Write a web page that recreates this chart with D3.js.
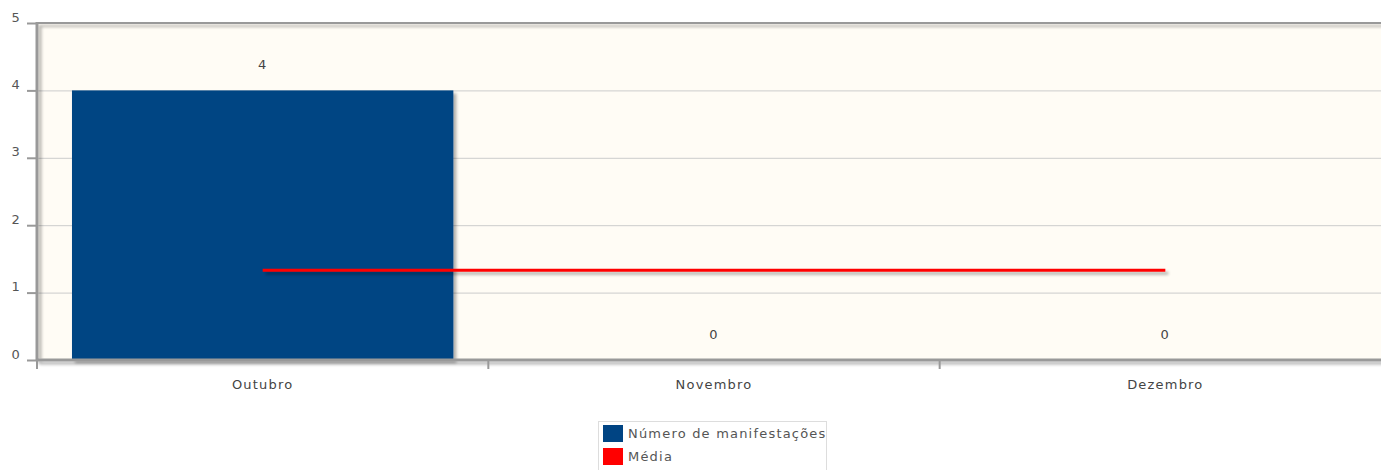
<!DOCTYPE html>
<html>
<head>
<meta charset="utf-8">
<script src="https://cdn.jsdelivr.net/npm/d3@7"></script>
<style>
  body { margin: 0; background: #fff; }
  text { font-family: "DejaVu Sans", Verdana, sans-serif; letter-spacing: 1.2px; }
</style>
</head>
<body>
<svg width="1381" height="470"></svg>
<script>
var months = ["Outubro", "Novembro", "Dezembro"];
var counts = [4, 0, 0];
var average = [1.33, 1.33, 1.33];
var yTicks = [0, 1, 2, 3, 4, 5];
var legendLabels = ["Número de manifestações", "Média"];
var legendColors = ["#004483", "#ff0000"];

var svg = d3.select("svg");
var plotL = 37, plotT = 23, plotB = 360, plotR = 1391;

var x = d3.scaleBand().domain(months).range([plotL, plotR]).paddingInner(0.155).paddingOuter(0.0775);
var xTick = d3.scaleBand().domain(months).range([plotL, plotR]);
var y = d3.scaleLinear().domain([0, 5]).range([plotB, plotT]);

function makeShadow(id, dx, dy) {
  var f = svg.append("defs").append("filter").attr("id", id)
    .attr("filterUnits", "userSpaceOnUse")
    .attr("x", 0).attr("y", 0).attr("width", 1400).attr("height", 470);
  f.append("feOffset").attr("in", "SourceAlpha").attr("dx", dx).attr("dy", dy).attr("result", "off");
  f.append("feGaussianBlur").attr("in", "off").attr("stdDeviation", 1.5).attr("result", "blur");
  f.append("feComponentTransfer").append("feFuncA").attr("type", "linear").attr("slope", 0.3);
  var merge = f.append("feMerge");
  merge.append("feMergeNode");
  merge.append("feMergeNode").attr("in", "SourceGraphic");
}
makeShadow("shadow", 3, 3);

// plot background
svg.append("rect").attr("x", plotL).attr("y", plotT).attr("width", plotR - plotL).attr("height", plotB - plotT)
  .attr("fill", "#fffcf5");

// grid
svg.append("g").selectAll("line").data(yTicks.slice(1)).enter().append("line")
  .attr("x1", plotL).attr("x2", plotR)
  .attr("y1", function (d) { return y(d) + 0.5; })
  .attr("y2", function (d) { return y(d) + 0.5; })
  .attr("stroke", "#cccccc").attr("stroke-width", 1);

// bars
svg.append("g").selectAll("rect").data(counts).enter().append("rect")
  .attr("x", function (d, i) { return x(months[i]); })
  .attr("y", function (d) { return y(d); })
  .attr("width", x.bandwidth())
  .attr("height", function (d) { return y(0) - y(d); })
  .attr("fill", "#004483")
  .attr("filter", "url(#shadow)");

// value labels
svg.append("g").selectAll("text").data(counts).enter().append("text")
  .attr("x", function (d, i) { return xTick(months[i]) + xTick.bandwidth() / 2; })
  .attr("y", function (d) { return y(d) - 21; })
  .attr("text-anchor", "middle")
  .attr("font-size", 13).attr("fill", "#444")
  .text(function (d) { return d; });

// average line
var line = d3.line()
  .x(function (d, i) { return xTick(months[i]) + xTick.bandwidth() / 2; })
  .y(function (d) { return y(d); });
svg.append("path").datum(average).attr("d", line)
  .attr("fill", "none").attr("stroke", "#ff0000").attr("stroke-width", 3)
  .attr("filter", "url(#shadow)");

// axes
var axisG = svg.append("g").attr("filter", "url(#shadow)");
axisG.append("line").attr("x1", plotL).attr("x2", plotL).attr("y1", plotT - 1).attr("y2", plotB + 1)
  .attr("stroke", "#999").attr("stroke-width", 3);
axisG.append("line").attr("x1", plotL).attr("x2", plotR).attr("y1", plotT).attr("y2", plotT)
  .attr("stroke", "#999").attr("stroke-width", 2);
axisG.append("line").attr("x1", plotL).attr("x2", plotR).attr("y1", plotB).attr("y2", plotB)
  .attr("stroke", "#999").attr("stroke-width", 3);

var yAxis = d3.axisLeft(y).tickValues(yTicks).tickSize(9).tickPadding(6).tickFormat(d3.format("d"));
var yg = svg.append("g").attr("transform", "translate(" + (plotL - 1) + ",0)").call(yAxis);
yg.select(".domain").remove();
yg.selectAll(".tick line").attr("stroke", "#999").attr("stroke-width", 2);
yg.selectAll(".tick text").attr("font-size", 13).attr("fill", "#555").attr("dy", "-0.15em")
  .style("font-family", "DejaVu Sans, Verdana, sans-serif");

var xg = svg.append("g");
xg.selectAll("line").data(months.concat(["end"])).enter().append("line")
  .attr("x1", function (d, i) { return plotL + i * xTick.bandwidth(); })
  .attr("x2", function (d, i) { return plotL + i * xTick.bandwidth(); })
  .attr("y1", plotB).attr("y2", plotB + 9)
  .attr("stroke", "#999").attr("stroke-width", 2);
xg.selectAll("text").data(months).enter().append("text")
  .attr("x", function (d) { return xTick(d) + xTick.bandwidth() / 2; })
  .attr("y", 389).attr("text-anchor", "middle")
  .attr("font-size", 13).attr("fill", "#444")
  .text(function (d) { return d; });

// legend
var lg = svg.append("g").attr("transform", "translate(598,421)");
lg.append("rect").attr("x", 0.5).attr("y", 0.5).attr("width", 228).attr("height", 60)
  .attr("fill", "#fff").attr("stroke", "#ddd");
var item = lg.selectAll("g.item").data(legendLabels).enter().append("g").attr("class", "item")
  .attr("transform", function (d, i) { return "translate(5," + (4 + i * 23) + ")"; });
item.append("rect").attr("width", 20).attr("height", 17)
  .attr("fill", function (d, i) { return legendColors[i]; });
item.append("text").attr("x", 25).attr("y", 13).attr("font-size", 13).attr("fill", "#555")
  .text(function (d) { return d; });
</script>
</body>
</html>
